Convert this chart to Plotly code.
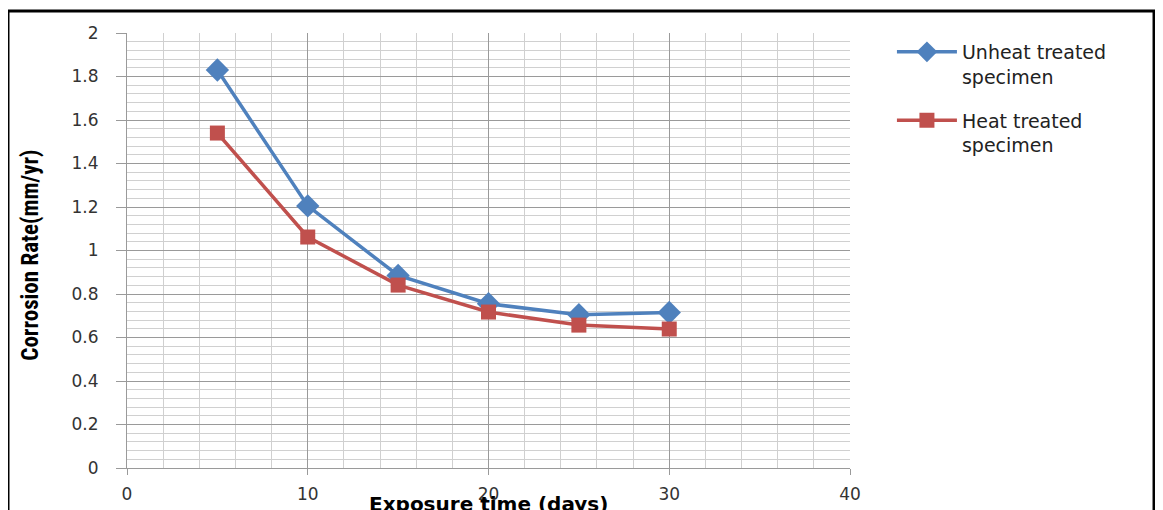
import plotly.graph_objects as go

days = [5, 10, 15, 20, 25, 30]
unheat = [1.83, 1.205, 0.885, 0.755, 0.705, 0.715]
heat = [1.54, 1.062, 0.841, 0.717, 0.657, 0.639]
names = ["Unheat treated<br>specimen", "Heat treated<br>specimen"]
x_ticks = [0, 10, 20, 30, 40]
y_ticks = [0, 0.2, 0.4, 0.6, 0.8, 1, 1.2, 1.4, 1.6, 1.8, 2]
y_labels = ["0", "0.2", "0.4", "0.6", "0.8", "1", "1.2", "1.4", "1.6", "1.8", "2"]

fig = go.Figure()
fig.add_trace(go.Scatter(
    x=days, y=unheat, name=names[0], mode="lines+markers", legendgroup="a",
    line=dict(color="#4F81BD", width=3.5),
    marker=dict(symbol="diamond", size=18, color="#4F81BD")))
fig.add_trace(go.Scatter(
    x=days, y=heat, name=names[1], mode="lines+markers", legendgroup="b",
    line=dict(color="#C0504D", width=3.5),
    marker=dict(symbol="square", size=15, color="#C0504D")))

tickfont = dict(family="DejaVu Sans, Verdana, sans-serif", size=17, color="#333333")

fig.update_xaxes(
    range=[0, 40], tickvals=x_ticks, ticktext=[str(v) for v in x_ticks],
    showgrid=True, gridcolor="#9a9a9a", gridwidth=1, automargin=False,
    showline=True, linecolor="#9a9a9a", linewidth=1,
    ticks="outside", ticklen=6, tickcolor="#9a9a9a",
    ticklabelstandoff=5, tickfont=tickfont, zeroline=False,
    minor=dict(dtick=2, showgrid=True, gridcolor="#d0d0d0", gridwidth=1, ticks=""))
fig.update_yaxes(
    range=[0, 2], tickvals=y_ticks, ticktext=y_labels,
    showgrid=True, gridcolor="#9a9a9a", gridwidth=1, automargin=False,
    showline=True, linecolor="#9a9a9a", linewidth=1,
    ticks="outside", ticklen=10, tickcolor="#9a9a9a",
    ticklabelstandoff=14, tickfont=tickfont, zeroline=False,
    minor=dict(dtick=0.04, showgrid=True, gridcolor="#d0d0d0", gridwidth=1, ticks=""))

fig.update_layout(
    width=1163, height=510,
    margin=dict(l=119, r=321, t=25, b=50, pad=0, autoexpand=False),
    paper_bgcolor="white", plot_bgcolor="white",
    showlegend=True,
    legend=dict(x=1.058, y=1.0, xanchor="left", yanchor="top",
                font=dict(family="DejaVu Sans, Verdana, sans-serif", size=19, color="#222222"),
                valign="top", tracegroupgap=16, itemwidth=60,
                bgcolor="rgba(0,0,0,0)"),
    shapes=[dict(type="rect", xref="paper", yref="paper",
                 x0=-0.1646, x1=1.4205, y0=-0.12, y1=1.0506,
                 line=dict(color="black", width=3), layer="above")],
    annotations=[
        dict(text="<b>Corrosion Rate(mm/yr)</b>", xref="paper", yref="paper",
             x=-0.133, y=0.49, textangle=-90, showarrow=False,
             xanchor="center", yanchor="middle",
             font=dict(family="Liberation Sans Narrow, Roboto Condensed, Arial Narrow, sans-serif",
                       size=23, color="black")),
        dict(text="<b>Exposure time (days)</b>", xref="paper", yref="paper",
             x=0.5, y=-0.05, showarrow=False, xanchor="center", yanchor="top",
             font=dict(family="DejaVu Sans, Verdana, sans-serif", size=20, color="black")),
    ],
)

fig.write_html("out.html")
